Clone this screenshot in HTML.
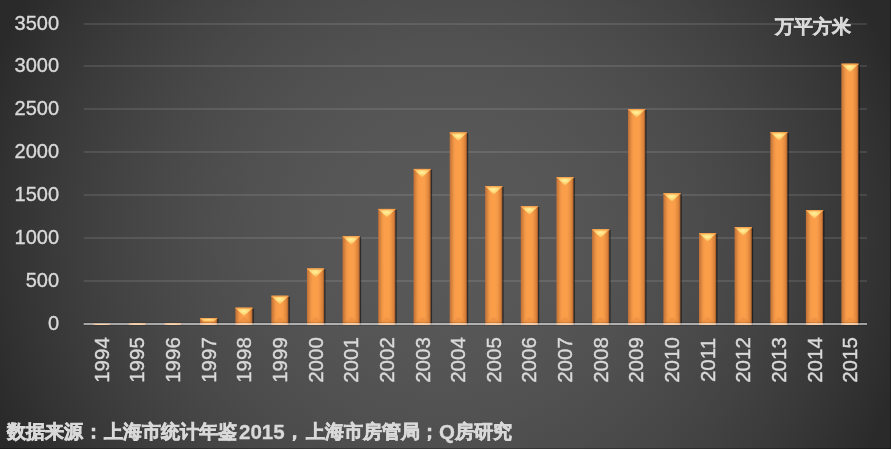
<!DOCTYPE html>
<html><head><meta charset="utf-8"><style>
html,body{margin:0;padding:0;}
.yl,.xl,#title,.src{will-change:transform;}
body{width:892px;height:450px;overflow:hidden;background:#fff;position:relative;font-family:"Liberation Sans",sans-serif;}
#bg{position:absolute;left:0;top:0;width:891px;height:449px;background:radial-gradient(ellipse 481px 469px at 443px 232px,rgb(88.7,88.7,88.7) 0%,rgb(88.2,88.2,88.2) 10%,rgb(86.8,86.8,86.8) 20%,rgb(84.5,84.5,84.5) 30%,rgb(81.2,81.2,81.2) 40%,rgb(77.0,77.0,77.0) 50%,rgb(71.9,71.9,71.9) 60%,rgb(65.8,65.8,65.8) 70%,rgb(58.8,58.8,58.8) 80%,rgb(50.9,50.9,50.9) 90%,rgb(42.0,42.0,42.0) 100%);box-shadow:inset -1px -1px 0 rgba(0,0,0,0.3);}
svg{position:absolute;left:0;top:0;}
.yl{position:absolute;left:0;width:59.1px;text-align:right;color:#d9d9d9;font-size:20px;line-height:22px;-webkit-text-stroke:0.35px #d9d9d9;}
.xl{position:absolute;top:349px;width:60px;height:22px;line-height:22px;text-align:center;color:#d9d9d9;font-size:20.5px;transform:rotate(-90deg);-webkit-text-stroke:0.35px #d9d9d9;}
#title{position:absolute;left:774.5px;top:14.5px;color:#d9d9d9;font-size:18.5px;font-weight:bold;line-height:24px;-webkit-text-stroke:0.4px #d9d9d9;}
.src{position:absolute;top:419.5px;color:#d9d9d9;font-size:19px;font-weight:bold;line-height:24px;white-space:nowrap;-webkit-text-stroke:0.6px #d9d9d9;}
.src.dg{font-size:20.5px;-webkit-text-stroke:0.3px #d9d9d9;}
</style></head><body>
<div id="bg"></div>
<svg width="892" height="450" viewBox="0 0 892 450">
<defs>
<linearGradient id="body" x1="0" x2="1" y1="0" y2="0">
<stop offset="0" stop-color="#c07038"/>
<stop offset="0.14" stop-color="#dc873f"/>
<stop offset="0.24" stop-color="#f29747"/>
<stop offset="0.36" stop-color="#fa9e4a"/>
<stop offset="0.62" stop-color="#fa9e4a"/>
<stop offset="0.74" stop-color="#ef9545"/>
<stop offset="0.9" stop-color="#d88039"/>
<stop offset="0.97" stop-color="#a8602c"/>
<stop offset="1" stop-color="#7a4524"/>
</linearGradient>
<radialGradient id="topg" cx="0.48" cy="0.4" r="0.62">
<stop offset="0" stop-color="#fff2a0"/>
<stop offset="0.45" stop-color="#ffd878"/>
<stop offset="1" stop-color="#f9ad55"/>
</radialGradient>
</defs>
<rect x="83.7" y="23" width="783.3" height="2" fill="#fff" fill-opacity="0.10"/><rect x="83.7" y="65" width="783.3" height="2" fill="#fff" fill-opacity="0.10"/><rect x="83.7" y="108" width="783.3" height="2" fill="#fff" fill-opacity="0.10"/><rect x="83.7" y="151" width="783.3" height="2" fill="#fff" fill-opacity="0.10"/><rect x="83.7" y="194" width="783.3" height="2" fill="#fff" fill-opacity="0.10"/><rect x="83.7" y="237" width="783.3" height="2" fill="#fff" fill-opacity="0.10"/><rect x="83.7" y="280" width="783.3" height="2" fill="#fff" fill-opacity="0.10"/>
<rect x="93.35" y="323.70" width="17.3" height="1.30" fill="url(#body)"/><rect x="110.65" y="324.50" width="1.2" height="0.50" fill="#000" fill-opacity="0.5"/><rect x="128.77" y="323.20" width="17.3" height="1.80" fill="url(#body)"/><rect x="146.07" y="324.00" width="1.2" height="1.00" fill="#000" fill-opacity="0.5"/><rect x="164.41" y="323.20" width="17.3" height="1.80" fill="url(#body)"/><rect x="181.71" y="324.00" width="1.2" height="1.00" fill="#000" fill-opacity="0.5"/><rect x="200.04" y="318.00" width="17.3" height="7.00" fill="url(#body)"/><rect x="217.34" y="318.80" width="1.2" height="6.20" fill="#000" fill-opacity="0.5"/><polygon points="200.04,325.00 217.34,325.00 213.84,321.50 203.54,321.50" fill="#d9803a" fill-opacity="0.35"/><polygon points="200.04,318.00 217.34,318.00 213.84,321.50 203.54,321.50" fill="url(#topg)"/><rect x="200.04" y="318.00" width="17.3" height="1.2" fill="#f39a48" fill-opacity="0.8"/><rect x="235.40" y="307.70" width="17.3" height="17.30" fill="url(#body)"/><rect x="252.70" y="308.50" width="1.2" height="16.50" fill="#000" fill-opacity="0.5"/><polygon points="235.40,325.00 252.70,325.00 245.10,317.40 243.00,317.40" fill="#d9803a" fill-opacity="0.35"/><polygon points="235.40,307.70 252.70,307.70 244.05,316.35 244.05,316.35" fill="url(#topg)"/><rect x="235.40" y="307.70" width="17.3" height="1.2" fill="#f39a48" fill-opacity="0.8"/><rect x="271.32" y="295.80" width="17.3" height="29.20" fill="url(#body)"/><rect x="288.62" y="296.60" width="1.2" height="28.40" fill="#000" fill-opacity="0.5"/><polygon points="271.32,325.00 288.62,325.00 281.02,317.40 278.92,317.40" fill="#d9803a" fill-opacity="0.35"/><polygon points="271.32,295.80 288.62,295.80 279.97,304.45 279.97,304.45" fill="url(#topg)"/><rect x="271.32" y="295.80" width="17.3" height="1.2" fill="#f39a48" fill-opacity="0.8"/><rect x="306.96" y="268.50" width="17.3" height="56.50" fill="url(#body)"/><rect x="324.26" y="269.30" width="1.2" height="55.70" fill="#000" fill-opacity="0.5"/><polygon points="306.96,325.00 324.26,325.00 316.66,317.40 314.56,317.40" fill="#d9803a" fill-opacity="0.35"/><polygon points="306.96,268.50 324.26,268.50 315.61,277.15 315.61,277.15" fill="url(#topg)"/><rect x="306.96" y="268.50" width="17.3" height="1.2" fill="#f39a48" fill-opacity="0.8"/><rect x="342.60" y="236.10" width="17.3" height="88.90" fill="url(#body)"/><rect x="359.90" y="236.90" width="1.2" height="88.10" fill="#000" fill-opacity="0.5"/><polygon points="342.60,325.00 359.90,325.00 352.30,317.40 350.20,317.40" fill="#d9803a" fill-opacity="0.35"/><polygon points="342.60,236.10 359.90,236.10 351.25,244.75 351.25,244.75" fill="url(#topg)"/><rect x="342.60" y="236.10" width="17.3" height="1.2" fill="#f39a48" fill-opacity="0.8"/><rect x="378.24" y="208.90" width="17.3" height="116.10" fill="url(#body)"/><rect x="395.54" y="209.70" width="1.2" height="115.30" fill="#000" fill-opacity="0.5"/><polygon points="378.24,325.00 395.54,325.00 387.94,317.40 385.84,317.40" fill="#d9803a" fill-opacity="0.35"/><polygon points="378.24,208.90 395.54,208.90 386.89,217.55 386.89,217.55" fill="url(#topg)"/><rect x="378.24" y="208.90" width="17.3" height="1.2" fill="#f39a48" fill-opacity="0.8"/><rect x="413.55" y="168.90" width="17.3" height="156.10" fill="url(#body)"/><rect x="430.85" y="169.70" width="1.2" height="155.30" fill="#000" fill-opacity="0.5"/><polygon points="413.55,325.00 430.85,325.00 423.25,317.40 421.15,317.40" fill="#d9803a" fill-opacity="0.35"/><polygon points="413.55,168.90 430.85,168.90 422.20,177.55 422.20,177.55" fill="url(#topg)"/><rect x="413.55" y="168.90" width="17.3" height="1.2" fill="#f39a48" fill-opacity="0.8"/><rect x="449.70" y="132.40" width="17.3" height="192.60" fill="url(#body)"/><rect x="467.00" y="133.20" width="1.2" height="191.80" fill="#000" fill-opacity="0.5"/><polygon points="449.70,325.00 467.00,325.00 459.40,317.40 457.30,317.40" fill="#d9803a" fill-opacity="0.35"/><polygon points="449.70,132.40 467.00,132.40 458.35,141.05 458.35,141.05" fill="url(#topg)"/><rect x="449.70" y="132.40" width="17.3" height="1.2" fill="#f39a48" fill-opacity="0.8"/><rect x="485.16" y="186.10" width="17.3" height="138.90" fill="url(#body)"/><rect x="502.46" y="186.90" width="1.2" height="138.10" fill="#000" fill-opacity="0.5"/><polygon points="485.16,325.00 502.46,325.00 494.86,317.40 492.76,317.40" fill="#d9803a" fill-opacity="0.35"/><polygon points="485.16,186.10 502.46,186.10 493.81,194.75 493.81,194.75" fill="url(#topg)"/><rect x="485.16" y="186.10" width="17.3" height="1.2" fill="#f39a48" fill-opacity="0.8"/><rect x="520.80" y="206.20" width="17.3" height="118.80" fill="url(#body)"/><rect x="538.10" y="207.00" width="1.2" height="118.00" fill="#000" fill-opacity="0.5"/><polygon points="520.80,325.00 538.10,325.00 530.50,317.40 528.40,317.40" fill="#d9803a" fill-opacity="0.35"/><polygon points="520.80,206.20 538.10,206.20 529.45,214.85 529.45,214.85" fill="url(#topg)"/><rect x="520.80" y="206.20" width="17.3" height="1.2" fill="#f39a48" fill-opacity="0.8"/><rect x="556.44" y="177.05" width="17.3" height="147.95" fill="url(#body)"/><rect x="573.74" y="177.85" width="1.2" height="147.15" fill="#000" fill-opacity="0.5"/><polygon points="556.44,325.00 573.74,325.00 566.13,317.40 564.04,317.40" fill="#d9803a" fill-opacity="0.35"/><polygon points="556.44,177.05 573.74,177.05 565.09,185.70 565.09,185.70" fill="url(#topg)"/><rect x="556.44" y="177.05" width="17.3" height="1.2" fill="#f39a48" fill-opacity="0.8"/><rect x="592.07" y="229.30" width="17.3" height="95.70" fill="url(#body)"/><rect x="609.37" y="230.10" width="1.2" height="94.90" fill="#000" fill-opacity="0.5"/><polygon points="592.07,325.00 609.37,325.00 601.77,317.40 599.67,317.40" fill="#d9803a" fill-opacity="0.35"/><polygon points="592.07,229.30 609.37,229.30 600.72,237.95 600.72,237.95" fill="url(#topg)"/><rect x="592.07" y="229.30" width="17.3" height="1.2" fill="#f39a48" fill-opacity="0.8"/><rect x="628.05" y="109.00" width="17.3" height="216.00" fill="url(#body)"/><rect x="645.35" y="109.80" width="1.2" height="215.20" fill="#000" fill-opacity="0.5"/><polygon points="628.05,325.00 645.35,325.00 637.75,317.40 635.65,317.40" fill="#d9803a" fill-opacity="0.35"/><polygon points="628.05,109.00 645.35,109.00 636.70,117.65 636.70,117.65" fill="url(#topg)"/><rect x="628.05" y="109.00" width="17.3" height="1.2" fill="#f39a48" fill-opacity="0.8"/><rect x="663.35" y="193.10" width="17.3" height="131.90" fill="url(#body)"/><rect x="680.65" y="193.90" width="1.2" height="131.10" fill="#000" fill-opacity="0.5"/><polygon points="663.35,325.00 680.65,325.00 673.05,317.40 670.95,317.40" fill="#d9803a" fill-opacity="0.35"/><polygon points="663.35,193.10 680.65,193.10 672.00,201.75 672.00,201.75" fill="url(#topg)"/><rect x="663.35" y="193.10" width="17.3" height="1.2" fill="#f39a48" fill-opacity="0.8"/><rect x="698.99" y="233.00" width="17.3" height="92.00" fill="url(#body)"/><rect x="716.29" y="233.80" width="1.2" height="91.20" fill="#000" fill-opacity="0.5"/><polygon points="698.99,325.00 716.29,325.00 708.69,317.40 706.59,317.40" fill="#d9803a" fill-opacity="0.35"/><polygon points="698.99,233.00 716.29,233.00 707.64,241.65 707.64,241.65" fill="url(#topg)"/><rect x="698.99" y="233.00" width="17.3" height="1.2" fill="#f39a48" fill-opacity="0.8"/><rect x="734.63" y="227.10" width="17.3" height="97.90" fill="url(#body)"/><rect x="751.93" y="227.90" width="1.2" height="97.10" fill="#000" fill-opacity="0.5"/><polygon points="734.63,325.00 751.93,325.00 744.33,317.40 742.23,317.40" fill="#d9803a" fill-opacity="0.35"/><polygon points="734.63,227.10 751.93,227.10 743.28,235.75 743.28,235.75" fill="url(#topg)"/><rect x="734.63" y="227.10" width="17.3" height="1.2" fill="#f39a48" fill-opacity="0.8"/><rect x="770.35" y="132.00" width="17.3" height="193.00" fill="url(#body)"/><rect x="787.65" y="132.80" width="1.2" height="192.20" fill="#000" fill-opacity="0.5"/><polygon points="770.35,325.00 787.65,325.00 780.05,317.40 777.95,317.40" fill="#d9803a" fill-opacity="0.35"/><polygon points="770.35,132.00 787.65,132.00 779.00,140.65 779.00,140.65" fill="url(#topg)"/><rect x="770.35" y="132.00" width="17.3" height="1.2" fill="#f39a48" fill-opacity="0.8"/><rect x="805.91" y="210.00" width="17.3" height="115.00" fill="url(#body)"/><rect x="823.21" y="210.80" width="1.2" height="114.20" fill="#000" fill-opacity="0.5"/><polygon points="805.91,325.00 823.21,325.00 815.61,317.40 813.51,317.40" fill="#d9803a" fill-opacity="0.35"/><polygon points="805.91,210.00 823.21,210.00 814.56,218.65 814.56,218.65" fill="url(#topg)"/><rect x="805.91" y="210.00" width="17.3" height="1.2" fill="#f39a48" fill-opacity="0.8"/><rect x="841.35" y="63.70" width="17.3" height="261.30" fill="url(#body)"/><rect x="858.65" y="64.50" width="1.2" height="260.50" fill="#000" fill-opacity="0.5"/><polygon points="841.35,325.00 858.65,325.00 851.05,317.40 848.95,317.40" fill="#d9803a" fill-opacity="0.35"/><polygon points="841.35,63.70 858.65,63.70 850.00,72.35 850.00,72.35" fill="url(#topg)"/><rect x="841.35" y="63.70" width="17.3" height="1.2" fill="#f39a48" fill-opacity="0.8"/>
<rect x="83.7" y="322" width="783.3" height="1" fill="#000" fill-opacity="0.12"/>
<rect x="83.7" y="325" width="783.3" height="1" fill="#000" fill-opacity="0.12"/>
<rect x="83.7" y="323" width="783.3" height="2" fill="#fff" fill-opacity="0.54"/>
</svg>
<div class="yl" style="top:311.5px">0</div><div class="yl" style="top:268.5px">500</div><div class="yl" style="top:225.5px">1000</div><div class="yl" style="top:182.5px">1500</div><div class="yl" style="top:139.5px">2000</div><div class="yl" style="top:96.5px">2500</div><div class="yl" style="top:53.5px">3000</div><div class="yl" style="top:11.5px">3500</div>
<div class="xl" style="left:71.8px">1994</div><div class="xl" style="left:107.4px">1995</div><div class="xl" style="left:143.1px">1996</div><div class="xl" style="left:178.7px">1997</div><div class="xl" style="left:214.3px">1998</div><div class="xl" style="left:250.0px">1999</div><div class="xl" style="left:285.6px">2000</div><div class="xl" style="left:321.3px">2001</div><div class="xl" style="left:356.9px">2002</div><div class="xl" style="left:392.5px">2003</div><div class="xl" style="left:428.2px">2004</div><div class="xl" style="left:463.8px">2005</div><div class="xl" style="left:499.4px">2006</div><div class="xl" style="left:535.1px">2007</div><div class="xl" style="left:570.7px">2008</div><div class="xl" style="left:606.4px">2009</div><div class="xl" style="left:642.0px">2010</div><div class="xl" style="left:677.6px">2011</div><div class="xl" style="left:713.3px">2012</div><div class="xl" style="left:748.9px">2013</div><div class="xl" style="left:784.6px">2014</div><div class="xl" style="left:820.2px">2015</div>
<div id="title">万平方米</div>
<div class="src" style="left:6.7px">数据来源</div>
<div class="src" style="left:84px">：</div>
<div class="src" style="left:103.5px">上海市统计年鉴</div>
<div class="src dg" style="left:239px">2015</div>
<div class="src" style="left:284.5px">，</div>
<div class="src" style="left:306px">上海市房管局</div>
<div class="src" style="left:420px">；</div>
<div class="src dg" style="left:439px">Q</div>
<div class="src" style="left:455.2px">房研究</div>
</body></html>
